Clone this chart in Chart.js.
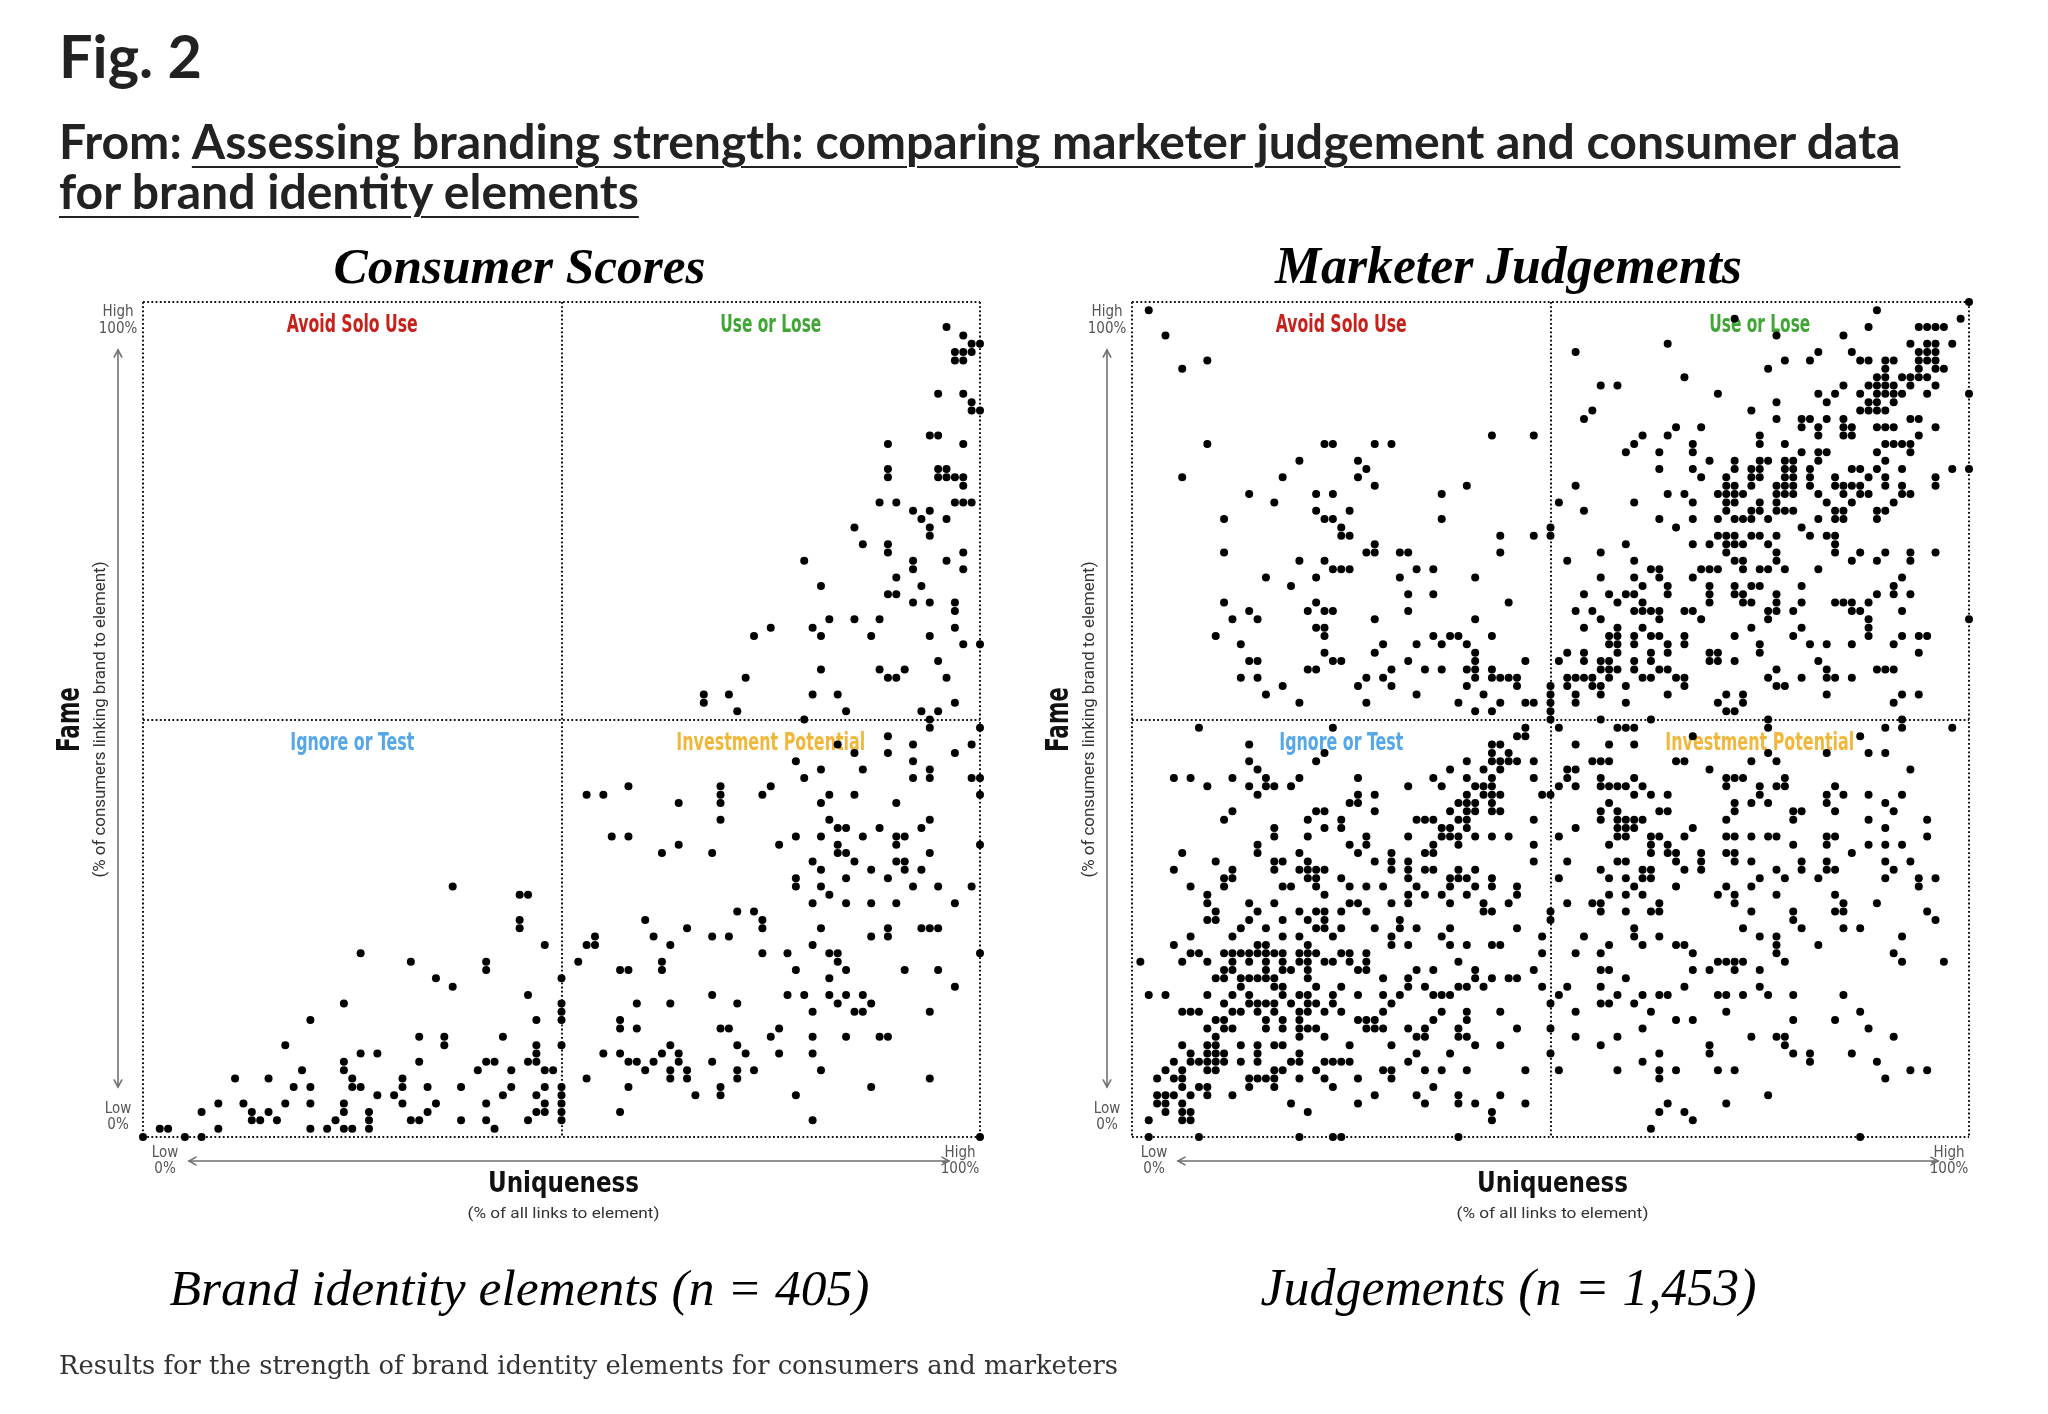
<!DOCTYPE html>
<html>
<head>
<meta charset="utf-8">
<script src="https://cdn.jsdelivr.net/npm/chart.js@4.4.1/dist/chart.umd.min.js"></script>
<style>
html,body{margin:0;padding:0;background:#fff;}
body{width:2048px;height:1414px;position:relative;overflow:hidden;}
.hd{position:absolute;left:59px;top:0;white-space:nowrap;font-family:Lato,"Noto Sans",sans-serif;font-weight:700;color:#222;}
.hd a{color:#222;text-decoration:underline;text-decoration-thickness:2px;text-underline-offset:7px;}
#cap{position:absolute;left:59px;top:0;white-space:nowrap;font-family:"DejaVu Serif",serif;color:#333;}
canvas{position:absolute;top:0;}
</style>
</head>
<body>
<div id="fig" class="hd">Fig. 2</div>
<div id="l1" class="hd">From: <a>Assessing branding strength: comparing marketer judgement and consumer data</a></div>
<div id="l2" class="hd"><a>for brand identity elements</a></div>
<canvas id="cA" width="1024" height="1414" style="left:0px"></canvas>
<canvas id="cB" width="1024" height="1414" style="left:989px"></canvas>
<div id="cap">Results for the strength of brand identity elements for consumers and marketers</div>
<script>
// ---------------- DATA ----------------
const chartTitles = ["Consumer Scores", "Marketer Judgements"];
const chartSubtitles = ["Brand identity elements (n = 405)", "Judgements (n = 1,453)"];
const quadrantLabels = ["Avoid Solo Use", "Use or Lose", "Ignore or Test", "Investment Potential"];
const quadrantColors = ["#c7211c", "#3fa535", "#55a7e8", "#f1b73a"];
const axisTickLabels = {low: ["Low", "0%"], high: ["High", "100%"]};
const axisTitles = {x: "Uniqueness", xSub: "(% of all links to element)", y: "Fame", ySub: "(% of consumers linking brand to element)"};

// Consumer scores: Fame level (%) and the Uniqueness values (%) of dots on that level
const consumerFame = [97,96,95,94,93,89,88,87,84,83,80,79,78,76,75,74,73,72,71,70,69,68,67,66,65,64,63,62,61,60,59,57,56,55,53,52,51,50,
 49,48,47,46,45,44,43,42,41,40,38,37,36,35,34,33,32,31,30,29,28,27,26,25,24,23,22,21,20,19,18,17,16,15,14,13,12,11,10,9,8,7,6,5,4,3,2,1,0];
const consumerUniqueness = [
 [96],[98],[99,100],[97,98,99],[97,98],[95,98],[99],[99,100],[94,95],[89,98],[89,95,96],[89,95,96,97,98],[98],
 [88,90,97,98,99],[92,94],[93,96],[85,94],[94],[86,89],[89,98],[79,92,96],[92,98],[90],[81,93],[89,90],[92,94,97],[97],
 [82,85,88],[75,80,97],[73,81,87,94],[98,100],[95],[81,88,91],[72,89,90,96],[67,70,80,83],[67,97],[71,84,93,95],[79,94],
 [94,100],[89],[83,92,99],[85,89,97],[78,92],[81,86,94],[79,92,94,99,100],[58,69,75],[53,55,69,74,82,85,100],[64,69,81,90],
 [69,82,94],[83,84,88,93],[56,58,78,81,86,90,91],[64,76,83,90,100],[62,68,83,84,94],[80,85,90,91],[81,87,91,93],[78,84,89],
 [37,78,81,92,95,99],[45,46,82],[80,84,87,90,97],[71,73],[45,60,74],[45,65,74,81,89,93,94,95],[54,61,68,70,87,89],
 [48,53,54,63,80],[26,74,77,82,83,100],[32,41,52,62,83],[41,57,58,62,78,84,91,95],[35,50,82],[37,97],[46,68,77,79,82,84,86],
 [24,50,59,63,71,83,87],[50,80,85,86,94],[20,47,50,57],[57,59,69,70,76],[33,36,43,75,80,84,88,89],[17,36,47,50,63,71],
 [26,28,47,55,57,62,64,72,76,80],[24,33,41,42,46,47,58,59,61,64,68],[19,24,40,44,48,49,60,63,65,71,73,81],
 [11,15,25,31,53,63,65,71,94],[18,20,25,26,31,34,38,44,48,50,58,69,87],[28,30,43,47,50,66,69,78],
 [9,12,17,20,24,31,35,41,48,50],[7,13,15,24,27,34,47,48,50,57],[13,14,16,23,27,32,33,38,41,46,50,80],
 [2,3,9,20,22,24,25,27,42],[0,5,7,100]
];

// Marketer judgements: Fame level (%) 100..0 and Uniqueness values (%) on that level
const marketerFame = [100,99,98,97,96,95,94,93,92,91,90,89,88,87,86,85,84,83,82,81,80,79,78,77,76,75,74,73,72,71,70,69,68,67,66,65,64,63,62,61,60,59,58,57,56,55,54,53,52,51,50,
 49,48,47,46,45,44,43,42,41,40,39,38,37,36,35,34,33,32,31,30,29,28,27,26,25,24,23,22,21,20,19,18,17,16,15,14,13,12,11,10,9,8,7,6,5,4,3,2,1,0];
const marketerUniqueness = [
 [100],[2,89],[72,99],[88,94,95,96,97],[4,77,85],[64,93,95,96,98],[53,82,86,94,95,96],[9,78,81,87,88,90,91,94,95,96],
 [6,76,90,94,96,97],[66,89,90,92,93,94,95],[56,58,85,88,89,90,91,93,96],[70,82,84,87,89,90,91,92,95,100],[77,83,88,89,91],
 [55,74,87,88,89,90],[54,77,80,81,83,85,93,94],[65,68,80,82,85,86,89,90,91,96],[43,48,61,64,75,82,85,86,94],
 [9,23,24,29,31,60,67,75,78,90,91,92,93],[59,63,67,80,82,83,89,93],[20,27,69,72,75,76,78,79,82,90],
 [28,63,67,72,74,75,78,79,81,86,87,89,92,98,100],[6,18,27,68,71,74,75,78,79,81,84,88,90,96],
 [29,40,53,71,72,74,77,78,79,81,84,85,86,87,90,92,96],[14,22,24,37,64,66,70,71,72,73,77,78,79,82,85,87,88,92,93],
 [17,51,60,67,71,72,75,77,83,86,91],[22,26,54,71,74,75,77,78,79,84,85,89,90],[11,23,24,37,63,67,70,72,73,74,76,82,84,85,89],
 [25,50,65,80],[25,26,44,48,50,70,71,72,74,75,77,81,83,84],[29,59,67,69,71,72,73,76,84],
 [11,28,29,32,33,44,56,71,77,84,87,90,93,96],[20,23,52,60,72,73,77,86,89,93],[24,25,26,34,36,62,63,68,69,70,73,75,76,78,82],
 [16,22,32,41,56,60,63,67,92],[19,61,64,69,72,74,75,80,91],[33,36,54,57,59,60,64,69,72,73,77,89,91,93],
 [11,22,45,58,61,69,73,74,77,80,84,85,86,88],[14,21,23,24,33,53,55,60,61,62,63,66,67,76,77,79,86,87,92],
 [12,15,29,41,56,63,68,76,88,100],[22,23,54,58,61,74,80,88],[10,23,36,38,39,43,57,58,60,62,63,66,72,79,88,92,94,95],
 [13,30,34,37,40,57,58,60,64,66,75,81,83,86,91],[23,29,41,52,54,58,62,64,69,70,75,94],
 [14,15,24,25,33,41,47,51,54,56,57,60,62,69,70,72,82],[21,22,31,35,37,40,41,43,56,57,58,60,63,64,77,83,89,90,91],
 [13,15,28,30,41,43,44,45,46,52,53,54,55,57,61,62,65,66,76,80,83,84,86],[18,27,31,40,46,50,52,55,56,59,66,77,78],
 [16,34,42,50,53,56,64,71,73,83,92,94],[20,28,39,44,47,48,50,53,59,70,73,91],[41,43,50,71,72],[50,56,62,76,92],
 [8,24,47,51,58,59,60,76,90,92,98],[46,47,67,87],[14,43,44,53,57,60],[23,43,45,76,83,88,90],
 [14,22,40,43,44,45,46,48,55,56,57,65,66,74,77],[15,38,42,44,52,53,69,93],[5,7,12,16,20,27,36,40,43,48,52,56,60,71,72,73,78],
 [9,14,16,17,19,33,37,41,42,43,51,53,56,57,58,59,61,71,75,77,78,84],[15,27,29,40,42,43,44,49,50,60,62,64,75,83,85,88,92],
 [26,27,39,40,41,43,57,72,74,76,83,90],[12,22,23,29,38,40,41,43,44,56,58,63,64,72,79,80,84,91],
 [11,21,25,34,35,36,39,40,48,56,58,59,60,61,71,79,88,95],[17,23,25,37,38,40,53,58,59,60,67,90],
 [17,21,28,33,37,38,39,41,43,45,51,58,59,62,63,66,71,72,74,76,77,83,84,95],[15,26,28,36,39,48,57,62,64,79,83,88,90,92],
 [6,15,20,27,31,35,36,62,64,65,68,71,72,86],[10,17,18,21,29,31,33,48,52,58,59,65,68,72,74,80,83,90,93],
 [5,12,17,20,21,22,23,31,33,35,36,39,41,56,61,62,66,68,77,80,83,84,91],[11,12,21,22,25,33,38,39,40,43,51,57,59,61,62,75,78,82,90,94,96],
 [7,11,18,19,22,26,28,30,34,38,41,43,46,60,65,71,74,94],[9,23,33,35,37,40,46,57,59,61,70,72,77,84],
 [9,14,17,26,27,31,33,38,42,45,52,55,56,63,72,85,89],[10,15,20,22,23,25,28,42,43,50,56,59,62,63,74,79,84,85,95],
 [9,10,14,18,21,23,32,50,79,96],[13,16,22,23,25,29,32,34,38,46,60,73,80,85,87],[7,12,18,20,24,31,37,49,54,60,63,75,77,92],
 [5,15,16,21,31,33,38,40,43,44,57,61,65,66,77,82],[7,8,11,12,13,14,15,16,17,18,20,21,22,25,26,28,49,53,56,67,77,91],
 [1,6,9,12,14,16,18,20,21,23,24,26,28,39,70,71,72,73,78,92,97],[11,12,16,18,19,21,27,28,34,36,41,48,56,57,67,69,72,75],
 [10,11,13,14,15,16,17,21,30,33,41,43,45,46,59],[13,17,18,22,25,33,35,39,40,42,49,52,56,66,75],
 [2,4,9,12,14,18,20,21,24,27,30,32,36,37,38,51,58,61,63,64,70,71,73,76,79,85],[11,14,15,16,17,19,21,22,24,31,50,56,57,60],
 [6,7,8,12,13,15,17,20,21,23,25,30,37,40,44,53,62,71,87],[10,11,16,18,20,27,28,29,36,40,65,67,79,84],
 [9,11,12,16,18,20,21,22,28,29,30,33,35,39,46,50,61,88],[10,20,23,34,35,39,40,53,58,74,77,78,91],
 [6,9,10,13,15,17,18,26,31,41,44,56,69,78],[7,9,10,11,15,20,34,38,50,63,69,79,81,86],
 [5,7,8,9,10,11,13,15,19,20,23,24,25,26,33,61,81,89],[4,6,9,10,17,18,22,30,31,35,37,40,47,51,58,63,65,70,72,93,95],
 [3,5,6,14,15,16,17,20,23,27,31,63,90],[6,8,9,14,17,24,36],[3,4,5,7,9,12,29,34,39,44,76],[3,4,6,19,27,35,39,41,47,64,71],
 [4,6,7,21,43,63,66],[2,6,7,43,67],[62],[2,8,20,24,25,39,87]
];

// ---------------- HEADER LAYOUT ----------------
function fitWidth(el, target, base) {
  el.style.fontSize = base + 'px';
  const w = el.getBoundingClientRect().width;
  const fs = base * target / w;
  el.style.fontSize = fs + 'px';
  return fs;
}
function placeBaseline(el, baseline) {
  el.style.top = '0px';
  const m = document.createElement('span');
  m.style.display = 'inline-block'; m.style.width = '0'; m.style.height = '0'; m.style.verticalAlign = 'baseline';
  el.appendChild(m);
  const off = m.getBoundingClientRect().bottom - el.getBoundingClientRect().top;
  el.removeChild(m);
  el.style.top = (baseline - off) + 'px';
}
const figEl = document.getElementById('fig'), l1 = document.getElementById('l1'), l2 = document.getElementById('l2'), capEl = document.getElementById('cap');
fitWidth(figEl, 143, 64);
const hfs = fitWidth(l1, 1842, 44);
l2.style.fontSize = hfs + 'px';
fitWidth(capEl, 1059, 26);
placeBaseline(figEl, 78);
placeBaseline(l1, 159);
placeBaseline(l2, 209);
placeBaseline(capEl, 1374);

// ---------------- CHART ----------------
const NARROW = '"Liberation Sans Narrow","DejaVu Sans Condensed","Roboto Condensed",sans-serif';
function drawFit(ctx, text, x, y, font, color, width, rot) {
  ctx.save();
  ctx.font = font;
  ctx.fillStyle = color;
  ctx.textAlign = 'center';
  ctx.textBaseline = 'middle';
  ctx.translate(x, y);
  if (rot) ctx.rotate(rot);
  if (width) { const w = ctx.measureText(text).width; ctx.scale(width / w, 1); }
  ctx.fillText(text, 0, 0);
  ctx.restore();
}
function drawUniform(ctx, text, x, y, style, family, width, color) {
  ctx.save();
  ctx.font = style + ' 50px ' + family;
  const w = ctx.measureText(text).width;
  ctx.font = style + ' ' + (50 * width / w) + 'px ' + family;
  ctx.fillStyle = color; ctx.textAlign = 'center'; ctx.textBaseline = 'alphabetic';
  ctx.fillText(text, x, y);
  ctx.restore();
}
function arrow(ctx, x1, y1, x2, y2) {
  ctx.save();
  ctx.strokeStyle = '#707070'; ctx.lineWidth = 1.6; ctx.lineCap = 'round';
  ctx.beginPath(); ctx.moveTo(x1, y1); ctx.lineTo(x2, y2); ctx.stroke();
  const a = Math.atan2(y2 - y1, x2 - x1), s = 8;
  [[x2, y2, a], [x1, y1, a + Math.PI]].forEach(([x, y, t]) => {
    ctx.beginPath();
    ctx.moveTo(x - Math.cos(t - 0.5) * s, y - Math.sin(t - 0.5) * s);
    ctx.lineTo(x, y);
    ctx.lineTo(x - Math.cos(t + 0.5) * s, y - Math.sin(t + 0.5) * s);
    ctx.stroke();
  });
  ctx.restore();
}

const quadPlugin = {
  id: 'quad',
  beforeDatasetsDraw(chart) {
    const ctx = chart.ctx, xs = chart.scales.x, ys = chart.scales.y;
    const widths = [131, 101, 124, 189];
    const pos = [[25, 100], [75, 100], [25, 50], [75, 50]];
    quadrantLabels.forEach((t, i) => {
      drawFit(ctx, t, xs.getPixelForValue(pos[i][0]), ys.getPixelForValue(pos[i][1]) + 24,
        'bold 24px ' + NARROW, quadrantColors[i], widths[i]);
    });
  },
  afterDraw(chart, args, o) {
    const ctx = chart.ctx, ca = chart.chartArea;
    const L = ca.left, R = ca.right, T = ca.top, B = ca.bottom, CX = (L + R) / 2, CY = (T + B) / 2;
    // titles
    drawUniform(ctx, o.title, CX - 42, T - 19, 'italic bold', '"Liberation Serif","Times New Roman",serif', o.titleW, '#000');
    drawUniform(ctx, o.sub, CX - 42, B + 168, 'italic', '"Liberation Serif","Times New Roman",serif', o.subW, '#000');
    const small = '15px ' + NARROW, grey = '#555';
    // y axis end labels
    drawFit(ctx, axisTickLabels.high[0], L - 25, T + 10, small, grey);
    drawFit(ctx, axisTickLabels.high[1], L - 25, T + 27, small, grey);
    drawFit(ctx, axisTickLabels.low[0], L - 25, B - 28, small, grey);
    drawFit(ctx, axisTickLabels.low[1], L - 25, B - 12, small, grey);
    arrow(ctx, L - 25, B - 50, L - 25, T + 48);
    drawFit(ctx, axisTitles.y, L - 72, CY, 'bold 32px ' + NARROW, '#111', 65, -Math.PI / 2);
    drawFit(ctx, axisTitles.ySub, L - 42, CY, '16px Roboto,' + NARROW, '#333', 316, -Math.PI / 2);
    // x axis end labels
    drawFit(ctx, axisTickLabels.low[0], L + 22, B + 16, small, grey);
    drawFit(ctx, axisTickLabels.low[1], L + 22, B + 32, small, grey);
    drawFit(ctx, axisTickLabels.high[0], R - 20, B + 16, small, grey);
    drawFit(ctx, axisTickLabels.high[1], R - 20, B + 32, small, grey);
    arrow(ctx, L + 46, B + 24, R - 31, B + 24);
    drawFit(ctx, axisTitles.x, CX + 2, B + 48, 'bold 28px ' + NARROW, '#111', 151);
    drawFit(ctx, axisTitles.xSub, CX + 2, B + 77, '15px Roboto,' + NARROW, '#333', 192);
  }
};

function toPoints(levels, lists) {
  const pts = [];
  levels.forEach((y, i) => lists[i].forEach(x => pts.push({x: x, y: y})));
  return pts;
}
function axis(isX) {
  return {
    type: 'linear', min: 0, max: 100,
    afterBuildTicks: s => { s.ticks = [{value: 0}, {value: 50}, {value: 100}]; },
    afterFit: s => { if (isX) s.height = 0; else s.width = 0; },
    ticks: {display: false},
    grid: {color: '#111', lineWidth: 2, drawTicks: false},
    border: {display: false, dash: [1.8, 2.4]}
  };
}
function makeChart(id, pts, idx, titleW, subW) {
  return new Chart(document.getElementById(id), {
    type: 'scatter',
    data: {datasets: [{data: pts, pointRadius: 4, pointHoverRadius: 4, pointBackgroundColor: '#000', pointBorderWidth: 0, clip: false}]},
    options: {
      responsive: false, animation: false, events: [],
      layout: {padding: {left: 143, right: 44, top: 302, bottom: 277}},
      scales: {x: axis(true), y: axis(false)},
      plugins: {legend: {display: false}, tooltip: {enabled: false},
        quad: {title: chartTitles[idx], sub: chartSubtitles[idx], titleW: titleW, subW: subW}}
    },
    plugins: [quadPlugin]
  });
}
makeChart('cA', toPoints(consumerFame, consumerUniqueness), 0, 372, 700);
makeChart('cB', toPoints(marketerFame, marketerUniqueness), 1, 467, 496);
</script>
</body>
</html>
